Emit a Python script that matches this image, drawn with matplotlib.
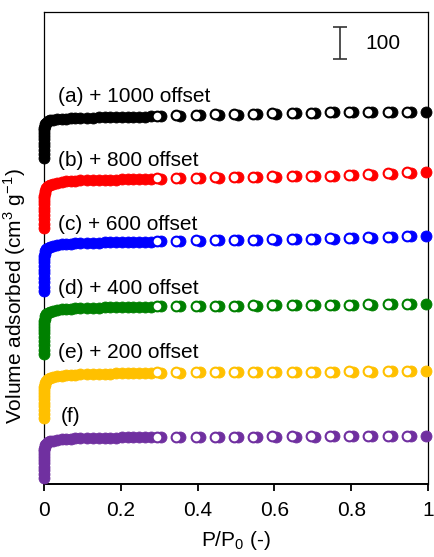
import numpy as np
import matplotlib.pyplot as plt

plt.rcParams['font.family'] = ['Liberation Sans', 'DejaVu Sans']
plt.rcParams['mathtext.fontset'] = 'custom'
plt.rcParams['mathtext.rm'] = 'Liberation Sans'

# relative pressure grid (adsorption branch and desorption branch)
p_ads = [1e-6, 5e-6, 1e-5, 3e-5, 6e-5, 1e-4, 2e-4, 4e-4, 7e-4, 0.0012, 0.002, 0.0035, 0.006,
         0.010, 0.016, 0.024, 0.034, 0.046, 0.058, 0.070, 0.082, 0.094, 0.113, 0.128, 0.143,
         0.158, 0.173, 0.188, 0.203, 0.218, 0.233, 0.248, 0.263, 0.278,
         0.305, 0.355, 0.405, 0.455, 0.505, 0.555, 0.605, 0.655, 0.705, 0.755, 0.805, 0.855,
         0.905, 0.955, 0.995]
p_des = [0.945, 0.895, 0.845, 0.795, 0.745, 0.695, 0.645, 0.595, 0.545, 0.495, 0.445, 0.395,
         0.345, 0.295]

labels = ['(a) + 1000 offset', '(b) + 800 offset', '(c) + 600 offset',
          '(d) + 400 offset', '(e) + 200 offset', '(f)']
offsets = [1000, 800, 600, 400, 200, 0]
colors = ['#000000', '#ff0000', '#0000ff', '#008000', '#ffc000', '#7030a0']

# volume adsorbed (cm3/g)
ads_a = [19, 32, 44, 56, 67, 78, 88, 97, 105, 112, 118, 124, 129,
         133, 136, 138, 140, 141, 142, 143, 143.5, 144, 144.5, 145, 145.5, 146, 146, 146.5,
         147, 147, 147.5, 148, 148, 148.5,
         149, 151, 152, 153, 154, 155, 156, 158, 160, 161, 161, 162, 163, 163, 164]
des_a = [164, 163, 163, 162, 161, 160, 159, 158, 157, 156, 155, 153, 152, 150]

ads_b = [0, 14, 27, 40, 52, 63, 74, 84, 93, 101, 109, 117, 124,
         130, 135, 139, 142, 144, 146, 147, 148, 149, 149.5, 150, 150.5, 151, 151, 151.5,
         152, 152, 152.5, 153, 153, 153.5,
         154, 155, 156, 157, 158, 159, 160, 161, 162, 163, 165, 167, 170, 173, 176]
des_b = [174, 171, 168, 166, 164, 163, 162, 161, 160, 159, 158, 157, 156, 155]

ads_c = [3, 17, 31, 45, 58, 70, 82, 93, 103, 112, 120, 127, 133,
         138, 142, 145, 147, 149, 150, 151, 152, 153, 153.5, 154, 154.5, 155, 155, 155.5,
         156, 156, 156.5, 157, 157, 157.5,
         158, 159, 160, 161, 162, 163, 164, 165, 166, 167, 168, 170, 172, 174, 176]
des_c = [175, 173, 171, 169, 168, 167, 166, 165, 164, 163, 162, 161, 160, 159]

ads_d = [6, 20, 34, 47, 59, 71, 82, 92, 101, 109, 117, 124, 130,
         135, 139, 142, 144, 146, 147, 148, 149, 150, 150.5, 151, 151.5, 152, 152, 152.5,
         153, 153, 153.5, 154, 154, 154.5,
         155, 155.5, 156, 156.5, 157, 157.5, 158, 158.5, 159, 159.5, 160, 160.5, 161, 161.5, 162]
des_d = [162, 161.5, 161, 160.5, 160, 159.5, 159, 158.5, 158, 157.5, 157, 156.5, 156, 155.5]

ads_e = [6, 19, 31, 43, 54, 65, 75, 85, 94, 102, 110, 117, 123,
         128, 132, 135, 137, 139, 140, 141, 142, 143, 143.5, 144, 144.5, 145, 145, 145.5,
         146, 146, 146.5, 147, 147, 147.5,
         148, 148, 148.5, 149, 149, 149.5, 150, 150, 150.5, 151, 151, 151.5, 152, 152, 153]
des_e = [153, 152.5, 152, 152, 151.5, 151, 151, 150.5, 150, 150, 149.5, 149, 149, 148.5]

ads_f = [19, 31, 43, 54, 65, 75, 85, 94, 102, 109, 115, 121, 126,
         130, 133, 136, 138, 139.5, 140.5, 141.5, 142.5, 143, 143.5, 144, 144.5, 144.5, 145,
         145, 145.5, 145.5, 146, 146, 146, 146.5,
         147, 147, 147.5, 147.5, 148, 148, 148, 148.5, 148.5, 149, 149, 149, 149.5, 149.5, 150]
des_f = [150, 150, 149.5, 149.5, 149.5, 149, 149, 149, 148.5, 148.5, 148, 148, 148, 147.5]

ads = [ads_a, ads_b, ads_c, ads_d, ads_e, ads_f]
des = [des_a, des_b, des_c, des_d, des_e, des_f]

fig = plt.figure(figsize=(4.35, 5.57), dpi=100)
ax = fig.add_axes([0.1011, 0.131, 0.8828, 0.8475])

for i in range(6):
    c = colors[i]
    # adsorption: filled circles
    ax.plot(p_ads, np.array(ads[i]) + offsets[i], 'o', ms=7.9, mfc=c, mec=c, mew=0.6,
            clip_on=False, zorder=3)
    # desorption: open circles on top
    ax.plot(p_des, np.array(des[i]) + offsets[i], 'o', ms=7.0, mfc='white', mec=c, mew=1.5,
            clip_on=False, zorder=4)
    x_lab = 0.043 if i == 5 else 0.037
    ax.text(x_lab, offsets[i] + 210, labels[i], fontsize=15, ha='left', va='center')

# scale bar
ax.errorbar(0.771, 1378, yerr=50, color='#333333', lw=1.2, capsize=4.7, capthick=1.2)
ax.text(0.836, 1376, '100', fontsize=15, ha='left', va='center')

ax.set_xlim(0, 1)
ax.set_ylim(0, 1475)
ax.set_xticks([0, 0.2, 0.4, 0.6, 0.8, 1])
ax.set_xticklabels(['0', '0.2', '0.4', '0.6', '0.8', '1'])
ax.set_yticks([])
ax.tick_params(axis='x', direction='out', length=5, width=1.3, labelsize=15, pad=7)
for s in ['left', 'right', 'top']:
    ax.spines[s].set_linewidth(0.9)
ax.spines['bottom'].set_linewidth(1.4)

ax.set_xlabel('P/P$_0$ (-)', fontsize=15, labelpad=7)
ax.set_ylabel('Volume adsorbed (cm$^3$ g$^{-1}$)', fontsize=15)
ax.yaxis.set_label_coords(-0.042, 0.398)

fig.savefig('out.png', dpi=100)
